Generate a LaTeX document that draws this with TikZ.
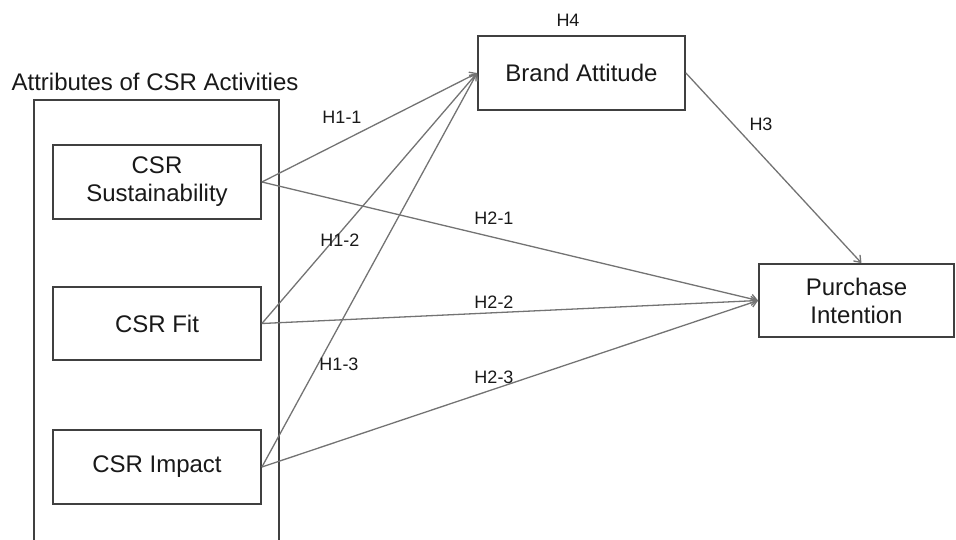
\documentclass[tikz,border=0pt]{standalone}
\usepackage{fontspec}
\setmainfont{Liberation Sans}
\usetikzlibrary{arrows.meta}
\begin{document}
\begin{tikzpicture}[x=1pt,y=-1pt,
  box/.style={draw=black!75,line width=1.8pt,rectangle,inner sep=0pt,align=center,
    font=\fontsize{24}{28}\selectfont,text=black!90},
  lbl/.style={font=\fontsize{18}{21}\selectfont,text=black!90,inner sep=0pt},
  conn/.style={draw=black!55,line width=1.3pt,-{Straight Barb[length=6pt,width=9pt]}}]
\useasboundingbox (0,0) rectangle (956,539);
\clip (0,0) rectangle (956,539);
\node[box,minimum width=245pt,minimum height=470pt] (outer) at (156.5,335) {};
\node[font=\fontsize{24}{28}\selectfont,text=black!90,inner sep=0pt] (title) at (155,82) {Attributes of CSR Activities};
\node[box,minimum width=208pt,minimum height=74pt] (sust) at (157,182) {CSR\\Sustainability};
\node[box,minimum width=208pt,minimum height=73pt] (fit) at (157,323.5) {CSR Fit};
\node[box,minimum width=208pt,minimum height=74pt] (impact) at (157,467) {CSR Impact};
\node[box,minimum width=207pt,minimum height=74pt] (brand) at (581.5,73) {Brand Attitude};
\node[box,minimum width=195pt,minimum height=73pt] (purchase) at (856.5,300.5) {Purchase\\Intention};
\draw[conn] (sust.east) -- (brand.west);
\draw[conn] (fit.east) -- (brand.west);
\draw[conn] (impact.east) -- (brand.west);
\draw[conn] (sust.east) -- (purchase.west);
\draw[conn] (fit.east) -- (purchase.west);
\draw[conn] (impact.east) -- (purchase.west);
\draw[conn] (brand.east) -- ([xshift=5pt]purchase.north);
\node[lbl] (h4) at (568,20) {H4};
\node[lbl] (h3) at (761,124) {H3};
\node[lbl] (h11) at (342,117) {H1-1};
\node[lbl] (h12) at (340,240) {H1-2};
\node[lbl] (h13) at (339,364) {H1-3};
\node[lbl] (h21) at (494,218) {H2-1};
\node[lbl] (h22) at (494,302) {H2-2};
\node[lbl] (h23) at (494,377) {H2-3};
\end{tikzpicture}
\end{document}
